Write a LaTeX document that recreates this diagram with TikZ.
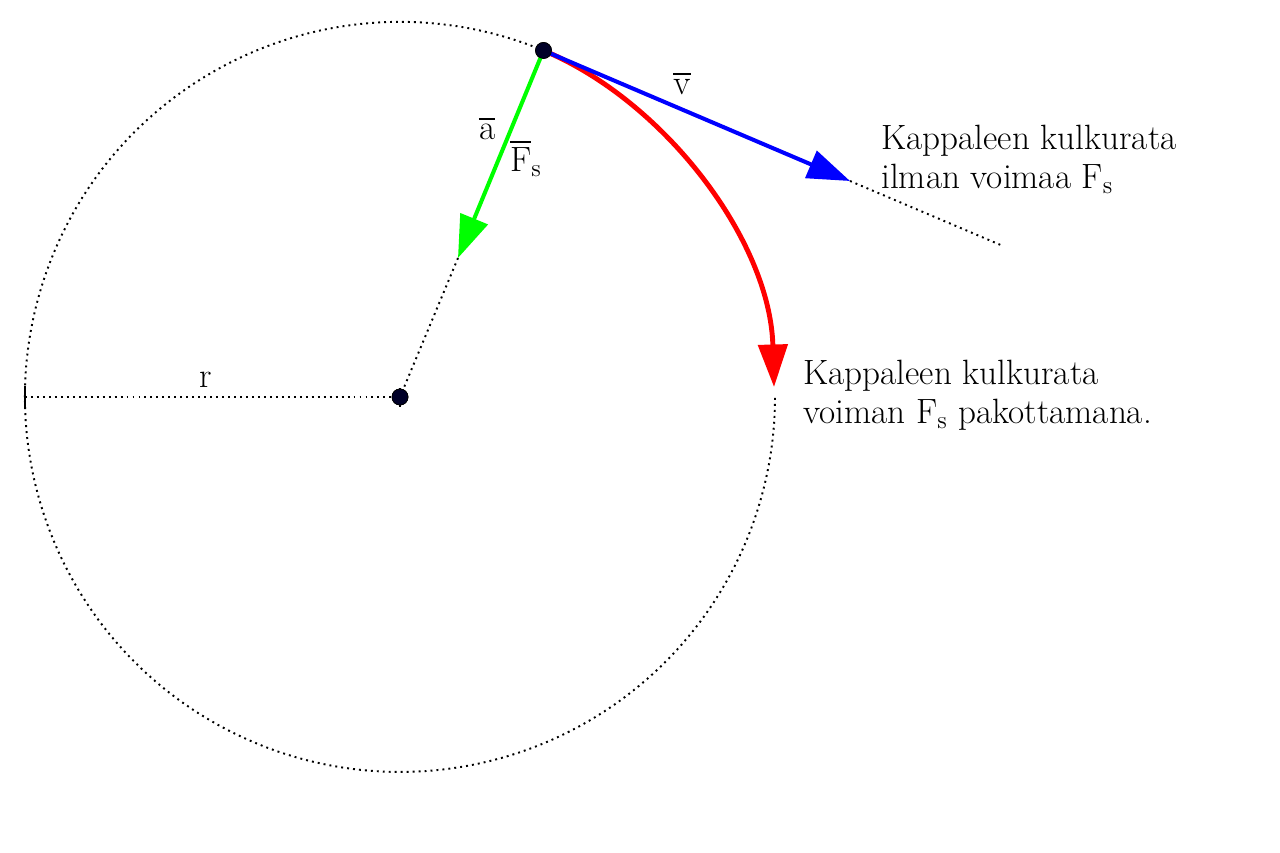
\documentclass[tikz,border=0pt]{standalone}
\usepackage{fix-cm}
\usepackage{amsmath}
\usetikzlibrary{arrows.meta}

\begin{document}
\begin{tikzpicture}[x=0.02cm,y=0.02cm,font=\fontsize{20}{22}\selectfont]

\tikzset{dot/.style = {shape=circle,draw=black,fill={rgb,255:red,0;green,0;blue,40},inner sep=0pt,minimum size=0.32cm}}
\tikzset{dots/.style = {line width=1.1pt,dash pattern=on 1.1pt off 2.3pt}}
\tikzset{vec/.style = {line width=2.3pt,-{Triangle[length=0.85cm,width=0.58cm]}}}
\tikzset{tick/.style = {line width=0.9pt}}

\useasboundingbox (0,0) rectangle (1280,852);

\coordinate (L) at (25,455);
\coordinate (vtip) at (850,671);
\coordinate (vend) at (1003,606);
\coordinate (atip) at (458,594);
\coordinate (ftip) at (774,465);

\node[dot] (O) at (400,455) {};
\node[dot] (P) at (543.5,801.5) {};

\draw[dots] (P.center) arc[start angle=67.5,end angle=360,radius=375];
\draw[dots] (L) -- (O.center);
\draw[dots] (atip) -- (O.center);
\draw[dots] (vtip) -- (vend);
\draw[tick] ([yshift=-0.22cm]L) -- ([yshift=0.22cm]L);
\draw[tick] ([yshift=-0.2cm]O.center) -- ([yshift=0.18cm]O.center);

\draw[vec,red,line width=2.8pt] (P.center) .. controls (663.6,751.7) and (770,612) .. (ftip);
\draw[vec,blue] (P.center) -- (vtip);
\draw[vec,green] (P.center) -- (atip);

\node[dot] at (P) {};
\node[dot] at (O) {};

\node (r) at (206,472) {r};
\node (v) at (682,769) {$\overline{\mathrm{v}}$};
\node (a) at (487,724) {$\overline{\mathrm{a}}$};
\node (F) at (526,694) {$\overline{\mathrm{F}}_{\mathrm{s}}$};

\node[anchor=north west,inner sep=0pt,align=left] (t1) at (881,727)
  {Kappaleen kulkurata\\ilman voimaa F$_{\mathrm{s}}$};
\node[anchor=north west,inner sep=0pt,align=left] (t2) at (803,492)
  {Kappaleen kulkurata\\voiman F$_{\mathrm{s}}$ pakottamana.};

\end{tikzpicture}
\end{document}
